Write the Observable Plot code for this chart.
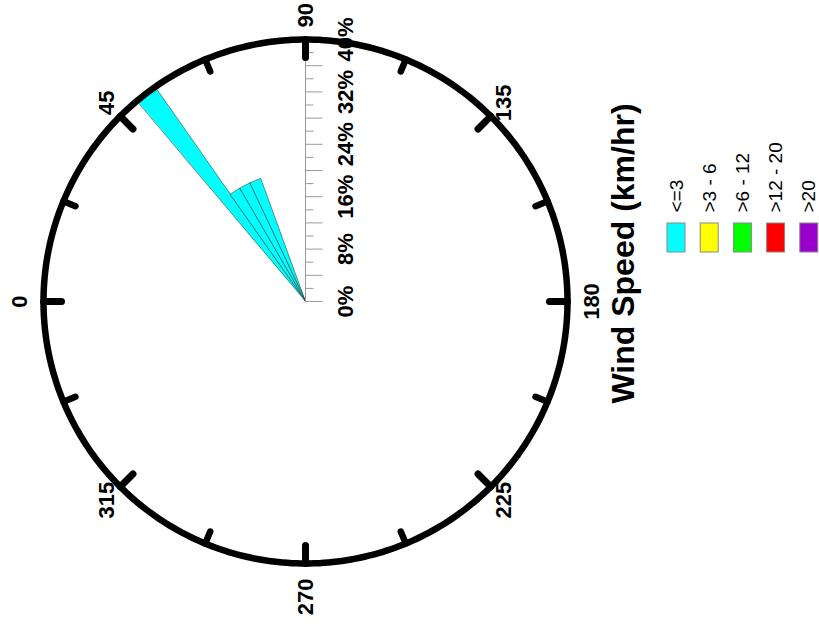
<!DOCTYPE html>
<html><head><meta charset="utf-8">
<script src="https://cdn.jsdelivr.net/npm/d3@7"></script>
<script src="https://cdn.jsdelivr.net/npm/@observablehq/plot@0.6"></script>
<style>html,body{margin:0;padding:0;background:#fff;overflow:hidden}#chart{width:819px;height:628px}</style>
</head><body><div id="chart"></div>
<script>
// ---- data ----
const directions = [52.5, 57.5, 62.5, 67.5];      // sector centres (degrees)
const sectorWidth = 5;                             // degrees per sector
const speedClasses = ["<=3", ">3 - 6", ">6 - 12", ">12 - 20", ">20"];
const speedColors = ["#00FFFF", "#FFFF00", "#00FF00", "#FF0000", "#9900CC"];
const freqLe3   = [40, 20, 20, 20];                // percent
const freq3to6  = [0, 0, 0, 0];
const freq6to12 = [0, 0, 0, 0];
const freq12to20 = [0, 0, 0, 0];
const freqGt20  = [0, 0, 0, 0];
const compassAngles = [0, 45, 90, 135, 180, 225, 270, 315];
const compassLabels = ["0", "45", "90", "135", "180", "225", "270", "315"];
const minorAngles = [22.5, 67.5, 112.5, 157.5, 202.5, 247.5, 292.5, 337.5];
const radialTicks = [0, 2, 4, 6, 8, 10, 12, 14, 16, 18, 20, 22, 24, 26, 28, 30, 32, 34, 36, 38, 40];
const radialLabelValues = [0, 8, 16, 24, 32, 40];
const radialMax = 40;
const legendTitle = "Wind Speed (km/hr)";

// ---- layout ----
const W = 819, H = 628, CX = 305, CY = 301, RPX = 262;
const K = RPX / radialMax;                 // px per percent
const FONT = "Liberation Sans, Arial, Helvetica, sans-serif";
const rad = a => a * Math.PI / 180;
// compass angle -> chart coordinates (0 at left, 90 at top, clockwise)
const polar = (a, r) => ({x: -r * Math.cos(rad(a)), y: r * Math.sin(rad(a))});
const X = px => (px - CX) / K;
const Y = py => (CY - py) / K;

// wedges
const freqBySpeed = [freqLe3, freq3to6, freq6to12, freq12to20, freqGt20];
const wedgePts = [];
directions.forEach((dir, i) => {
  let r0 = 0;
  speedClasses.forEach((sp, s) => {
    const v = freqBySpeed[s][i];
    if (v > 0) {
      const r1 = r0 + v, a1 = dir - sectorWidth / 2, a2 = dir + sectorWidth / 2, n = 12, id = i + "-" + s;
      for (let j = 0; j <= n; j++) wedgePts.push({id, speed: sp, ...polar(a1 + (a2 - a1) * j / n, r0)});
      for (let j = n; j >= 0; j--) wedgePts.push({id, speed: sp, ...polar(a1 + (a2 - a1) * j / n, r1)});
      r0 = r1;
    }
  });
});
const circlePts = d3.range(0, 360, 1).map(a => polar(a, radialMax));
const compass = compassAngles.map((a, i) => ({a, label: compassLabels[i]}));
const pos = (a, rpx) => polar(a, rpx / K);
const legend = speedClasses.map((s, i) => ({s, i}));
const STEP = 33.2, LX0 = 667;

const textBase = {rotate: -90, fontFamily: FONT, fill: "black"};
const LBL = 22;

const chart = Plot.plot({
  width: W, height: H,
  marginTop: 0, marginRight: 0, marginBottom: 0, marginLeft: 0,
  x: {domain: [X(0), X(W)], axis: null},
  y: {domain: [Y(H), Y(0)], axis: null},
  color: {domain: speedClasses, range: speedColors},
  style: {background: "white", fontFamily: FONT, overflow: "visible"},
  marks: [
    Plot.line(wedgePts, {x: "x", y: "y", z: "id", fill: "speed", stroke: "#2f3f3f", strokeWidth: 0.6, curve: "linear-closed"}),
    // radial axis
    Plot.link([0], {x1: () => polar(90, 0).x, y1: () => polar(90, 0).y, x2: () => polar(90, radialMax).x, y2: () => polar(90, radialMax).y, stroke: "#999", strokeWidth: 1}),
    Plot.link(radialTicks, {
      x1: t => polar(90, t).x, y1: t => polar(90, t).y,
      x2: t => polar(90, t).x + (t % 4 === 0 ? 17 : 8) / K, y2: t => polar(90, t).y,
      stroke: "#999", strokeWidth: 1
    }),
    // outer circle
    Plot.line(circlePts, {x: "x", y: "y", stroke: "black", strokeWidth: 6.5, curve: "linear-closed"}),
    // compass ticks
    Plot.link(compassAngles, {
      x1: a => pos(a, RPX).x, y1: a => pos(a, RPX).y, x2: a => pos(a, RPX - 18).x, y2: a => pos(a, RPX - 18).y,
      stroke: "black", strokeWidth: 7, strokeLinecap: "round"
    }),
    Plot.link(minorAngles, {
      x1: a => pos(a, RPX).x, y1: a => pos(a, RPX).y, x2: a => pos(a, RPX - 13).x, y2: a => pos(a, RPX - 13).y,
      stroke: "black", strokeWidth: 6.5, strokeLinecap: "round"
    }),
    // compass labels
    Plot.text(compass.filter(d => d.a === 90), {...textBase, x: d => pos(d.a, 274).x, y: d => pos(d.a, 274).y, text: "label", textAnchor: "start", lineAnchor: "middle", fontSize: LBL, fontWeight: "bold"}),
    Plot.text(compass.filter(d => d.a === 270), {...textBase, x: d => pos(d.a, 277).x, y: d => pos(d.a, 277).y, text: "label", textAnchor: "end", lineAnchor: "middle", fontSize: LBL, fontWeight: "bold"}),
    Plot.text(compass.filter(d => d.a === 0), {...textBase, x: d => pos(d.a, 279).x, y: d => pos(d.a, 279).y, text: "label", textAnchor: "middle", lineAnchor: "bottom", fontSize: LBL, fontWeight: "bold"}),
    Plot.text(compass.filter(d => d.a === 180), {...textBase, x: d => pos(d.a, 278).x, y: d => pos(d.a, 278).y, text: "label", textAnchor: "middle", lineAnchor: "top", fontSize: LBL, fontWeight: "bold"}),
    Plot.text(compass.filter(d => d.a % 90 !== 0), {...textBase, x: d => pos(d.a, 281).x, y: d => pos(d.a, 281).y, text: "label", textAnchor: "middle", lineAnchor: "middle", fontSize: LBL, fontWeight: "bold"}),
    // radial labels
    Plot.text(radialLabelValues, {...textBase, x: t => polar(90, t).x + 40 / K, y: t => polar(90, t).y, text: t => t + "%", textAnchor: "middle", lineAnchor: "middle", fontSize: LBL, fontWeight: "bold"}),
    // legend
    Plot.text([legendTitle], {...textBase, x: () => X(623), y: () => Y(253), text: d => d, textAnchor: "middle", lineAnchor: "middle", fontSize: 32, fontWeight: "bold"}),
    Plot.rect(legend, {x1: d => X(LX0 + d.i * STEP), x2: d => X(LX0 + 18 + d.i * STEP), y1: () => Y(252), y2: () => Y(223), fill: "s", stroke: "#888", strokeWidth: 1}),
    Plot.text(legend, {...textBase, x: d => X(LX0 + 9 + d.i * STEP), y: () => Y(212), text: "s", textAnchor: "start", lineAnchor: "middle", fontSize: 19})
  ]
});
document.getElementById("chart").appendChild(chart);
</script>
</body></html>
